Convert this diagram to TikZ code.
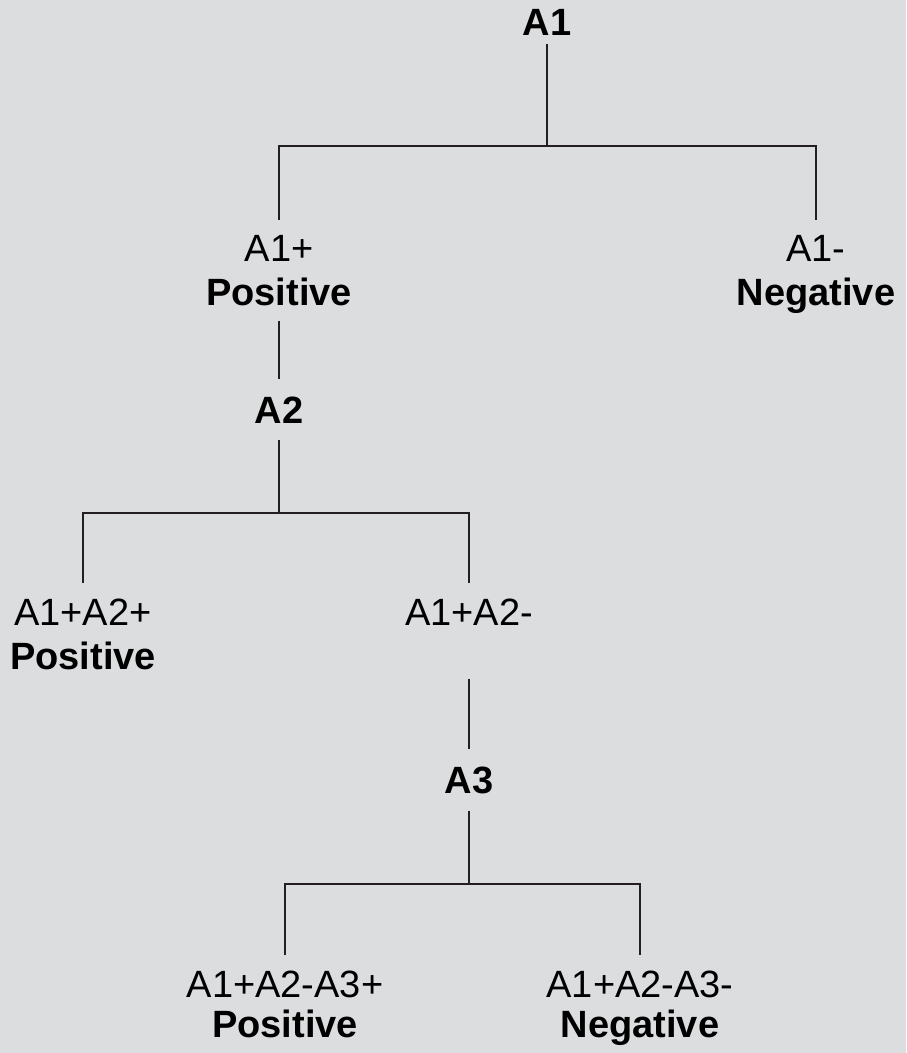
\documentclass[tikz,border=0pt]{standalone}
\usepackage{fontspec}
\setmainfont{Liberation Sans}
\usetikzlibrary{positioning}
\definecolor{bgcol}{RGB}{220,221,223}
\definecolor{linecol}{RGB}{35,31,32}

\begin{document}
\begin{tikzpicture}[x=1pt, y=-1pt,
      test/.style={font=\fontsize{38}{44}\selectfont\bfseries, inner xsep=0pt, inner ysep=17pt, anchor=base},
      leaf/.style={font=\fontsize{38}{44}\selectfont, align=center, inner xsep=0pt, inner ysep=15pt, anchor=base},
      conn/.style={draw=linecol, line width=1.9pt},
    ]

    \fill[bgcol] (0,0) rectangle (906,1053);
    \useasboundingbox (0,0) rectangle (906,1053);

    % tests
    \node[test, inner ysep=9pt] (a1) at (547,35) {A1};
    \node[test] (a2) at (279,423) {A2};
    \node[test] (a3) at (469,793) {A3};

    % outcomes (base = last line)
    \node[leaf] (a1_pos) at (279,305) {A1+\\\textbf{Positive}};
    \node[leaf] (a1_neg) at (816,305) {A1-\\\textbf{Negative}};
    \node[leaf] (a2_pos) at (83,669) {A1+A2+\\\textbf{Positive}};
    \node[leaf] (a2_neg) at (469,625) {A1+A2-};
    \node[leaf, font=\fontsize{38}{40}\selectfont] (a3_pos) at (285,1037) {A1+A2-A3+\\\textbf{Positive}};
    \node[leaf, font=\fontsize{38}{40}\selectfont] (a3_neg) at (640,1037) {A1+A2-A3-\\\textbf{Negative}};

    \coordinate (bar1) at (547,146);
    \coordinate (bar2) at (279,513);
    \coordinate (bar3) at (469,884);

    \draw[conn] (a1) -- (bar1);
    \draw[conn] (a1_pos) |- (bar1) -| (a1_neg);
    \draw[conn] (a1_pos) -- (a2);

    \draw[conn] (a2) -- (bar2);
    \draw[conn] (a2_pos) |- (bar2) -| (a2_neg);
    \draw[conn, shorten <=39pt] (a2_neg) -- (a3);

    \draw[conn] (a3) -- (bar3);
    \draw[conn] (a3_pos) |- (bar3) -| (a3_neg);
  \end{tikzpicture}
\end{document}
